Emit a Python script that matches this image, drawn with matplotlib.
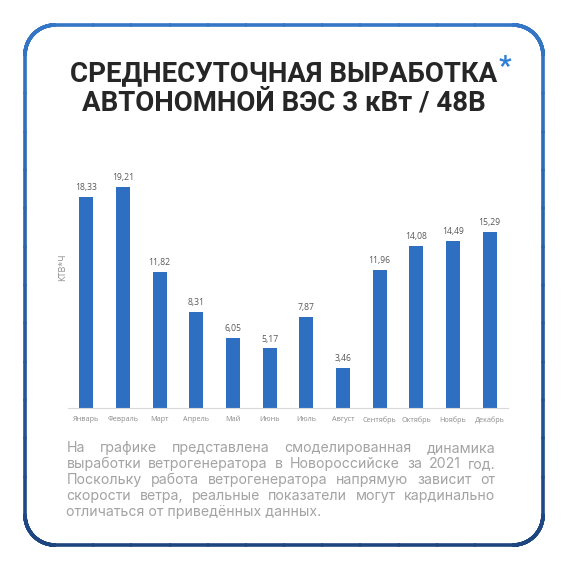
import numpy as np
import matplotlib
matplotlib.use("Agg")
import matplotlib.pyplot as plt
from matplotlib.collections import LineCollection

months = ["Январь", "Февраль", "Март", "Апрель", "Май", "Июнь",
          "Июль", "Август", "Сентябрь", "Октябрь", "Ноябрь", "Декабрь"]
values = [18.33, 19.21, 11.82, 8.31, 6.05, 5.17, 7.87, 3.46, 11.96, 14.08, 14.49, 15.29]
value_labels = ["18,33", "19,21", "11,82", "8,31", "6,05", "5,17",
                "7,87", "3,46", "11,96", "14,08", "14,49", "15,29"]
y_label = "КТВ*Ч"
title_lines = ["СРЕДНЕСУТОЧНАЯ ВЫРАБОТКА", "АВТОНОМНОЙ ВЭС 3 кВт / 48В"]
note_lines = [
    "На графике представлена смоделированная динамика",
    "выработки ветрогенератора в Новороссийске за 2021 год.",
    "Поскольку работа ветрогенератора напрямую зависит от",
    "скорости ветра, реальные показатели могут кардинально",
    "отличаться от приведённых данных.",
]

W = H = 570
BAR_COLOR = "#2f6fc1"

fig = plt.figure(figsize=(W / 100, H / 100), dpi=100)
fig.patch.set_facecolor("white")


def fx(px):
    return px / W


def fy(py):
    # pixel y measured from top
    return 1 - py / H


# rounded frame with a top->bottom colour gradient
x0, y0, x1, y1, r = 25, 25, 543, 545, 30
pts = []
for cx, cy, a0 in [(x1 - r, y0 + r, -90), (x1 - r, y1 - r, 0), (x0 + r, y1 - r, 90), (x0 + r, y0 + r, 180)]:
    for a in np.linspace(a0, a0 + 90, 20):
        pts.append((cx + r * np.cos(np.radians(a)), cy + r * np.sin(np.radians(a))))
pts.append(pts[0])
dense = []
for p, q in zip(pts[:-1], pts[1:]):
    for t in np.linspace(0, 1, 12, endpoint=False):
        dense.append((p[0] + (q[0] - p[0]) * t, p[1] + (q[1] - p[1]) * t))
dense.append(pts[0])
dense = np.array(dense)
segs = np.stack([dense[:-1], dense[1:]], axis=1)
segs_fig = np.column_stack([segs[:, :, 0].ravel() / W, 1 - segs[:, :, 1].ravel() / H]).reshape(-1, 2, 2)
top_c = np.array(matplotlib.colors.to_rgb("#3477c6"))
bot_c = np.array(matplotlib.colors.to_rgb("#1d4580"))
ymid = (segs[:, 0, 1] + segs[:, 1, 1]) / 2
t = ((ymid - y0) / (y1 - y0))[:, None]
cols = top_c * (1 - t) + bot_c * t
lc = LineCollection(segs_fig, colors=cols, linewidths=2.6, transform=fig.transFigure, capstyle="round")
fig.add_artist(lc)

fig.canvas.draw()
renderer = fig.canvas.get_renderer()


def fit_size(txt, target_px):
    # scale font so the text spans target_px
    w = txt.get_window_extent(renderer).width
    txt.set_fontsize(txt.get_fontsize() * target_px / w)


# title
title_font = dict(family=["Roboto", "DejaVu Sans"], weight="bold", size=20, color="#262626")
t1 = fig.text(fx(284), fy(74), title_lines[0], ha="center", va="center", **title_font)
t2 = fig.text(fx(284), fy(103), title_lines[1], ha="center", va="center", **title_font)
fit_size(t1, 427)
t2.set_fontsize(t1.get_fontsize())
bb = t1.get_window_extent(renderer)
fig.text(bb.x1 / W + fx(1), fy(67), "*", ha="left", va="center",
         family=["Roboto", "DejaVu Sans"], weight="bold", size=t1.get_fontsize(), color="#2f7fd6")

# bar chart
ax = fig.add_axes([fx(68), fy(408), fx(508) - fx(68), fy(166) - fy(408)])
x = np.arange(len(months))
ax.bar(x, values, width=0.38, color=BAR_COLOR)
ax.set_xlim(-0.5, len(months) - 0.5)
ax.set_ylim(0, 21)
for xi, v, lab in zip(x, values, value_labels):
    ax.annotate(lab, (xi, v), xytext=(0, 3.5), textcoords="offset points",
                ha="center", va="bottom", fontsize=6.2, color="#595959",
                family=["Open Sans", "DejaVu Sans"])
ax.set_xticks(x)
ax.set_xticklabels(months, fontsize=5.2, color="#8c8c8c", family=["Open Sans", "DejaVu Sans"])
ax.tick_params(axis="x", length=0, pad=6)
ax.set_yticks([])
for s in ["top", "right", "left"]:
    ax.spines[s].set_visible(False)
ax.spines["bottom"].set_color("#d9d9d9")
ax.spines["bottom"].set_linewidth(0.8)
ax.set_facecolor("none")
fig.text(fx(63), fy(267), y_label, rotation=90, ha="center", va="center",
         fontsize=6.5, color="#8c8c8c", family=["Open Sans", "DejaVu Sans"])

# justified note text
note_font = dict(family=["Inter", "DejaVu Sans"], size=10, color="#a3a3a3")
probe = fig.text(0, 0, note_lines[-1], **note_font)
fit_size(probe, 255)
note_size = probe.get_fontsize()
probe.remove()
note_font["size"] = note_size
left, right = 66.5, 495.5
for i, line in enumerate(note_lines):
    yy = fy(448 + i * 16.1)
    words = line.split(" ")
    if i == len(note_lines) - 1:
        fig.text(fx(left), yy, line, ha="left", va="center", **note_font)
        continue
    txts = [fig.text(0, yy, w, ha="left", va="center", **note_font) for w in words]
    widths = [tt.get_window_extent(renderer).width for tt in txts]
    gap = (right - left - sum(widths)) / (len(words) - 1)
    pos = left
    for tt, w in zip(txts, widths):
        tt.set_x(fx(pos))
        pos += w + gap

fig.savefig("out.png", dpi=100, facecolor="white")
